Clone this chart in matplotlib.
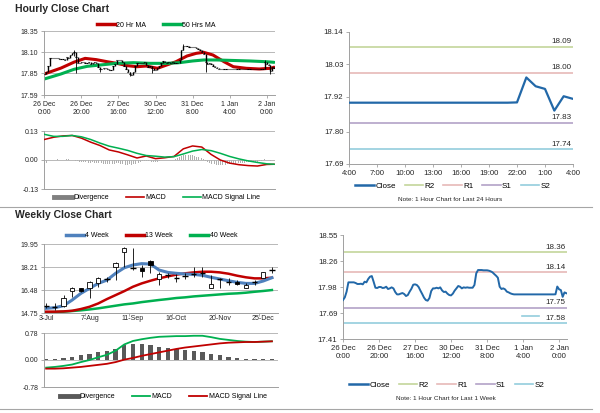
import numpy as np
import matplotlib
matplotlib.use("Agg")
import matplotlib.pyplot as plt
import matplotlib.transforms as mtransforms
from matplotlib.lines import Line2D

plt.rcParams['font.family'] = ['Liberation Sans', 'DejaVu Sans']

# ---------------- hourly data (last week, 125 hours) ----------------
hourly_close = [
    17.837, 17.866, 17.929, 18.031, 18.031, 18.031, 18.031, 18.024, 18.013, 18.013,
    18.016, 18.009, 18.038, 18.031, 18.068, 18.093, 18.100, 18.038, 17.972, 17.969,
    17.980, 17.980, 17.969, 17.972, 17.983, 17.958, 17.965, 17.976, 17.965, 17.925,
    17.899, 17.899, 17.907, 17.914, 17.903, 17.881, 17.892, 17.929, 17.961, 18.005,
    18.009, 18.002, 17.980, 17.940, 17.903, 17.863, 17.837, 17.830, 17.859, 17.936,
    17.965, 17.965, 17.972, 17.965, 17.976, 17.943, 17.925, 17.929, 17.907, 17.892,
    17.888, 17.907, 17.940, 17.965, 17.991, 17.983, 17.965, 17.976, 17.972, 17.976,
    17.972, 17.972, 17.972, 18.002, 18.130, 18.166, 18.166, 18.166, 18.163, 18.163,
    18.163, 18.159, 18.152, 18.141, 18.122, 18.104, 18.082, 17.983, 17.958, 17.965,
    17.954, 17.929, 17.921, 17.910, 17.903, 17.899, 17.899, 17.899, 17.899, 17.899,
    17.899, 17.899, 17.899, 17.899, 17.899, 17.899, 17.899, 17.899, 17.899, 17.899,
    17.899, 17.899, 17.899, 17.899, 17.899, 17.899, 17.899, 17.899, 17.900, 17.985,
    17.955, 17.946, 17.872, 17.921, 17.912,
]
hourly_ticks = [0, 20, 40, 60, 80, 100, 120]
hourly_ticklabels = ['26 Dec\n0:00', '26 Dec\n20:00', '27 Dec\n16:00', '30 Dec\n12:00',
                     '31 Dec\n8:00', '1 Jan\n4:00', '2 Jan\n0:00']

# long wicks visible on the hourly candles
wick_idx = [16, 17, 30, 46, 58, 75, 87, 119, 122]
wick_lo = [18.05, 17.85, 17.86, 17.82, 17.85, 18.13, 17.86, 17.90, 17.84]
wick_hi = [18.13, 18.06, 17.91, 17.86, 17.93, 18.19, 18.07, 18.00, 17.95]

ma20_idx = [0, 9, 16, 22, 28, 34, 39, 45, 50, 55, 61, 66, 71, 77, 82, 86, 91, 97, 102, 109, 116, 122, 124]
ma20 = [17.84, 17.91, 17.98, 18.025, 18.01, 17.985, 17.966, 17.938, 17.926, 17.934, 17.907, 17.946,
        17.985, 18.053, 18.085, 18.097, 18.065, 17.985, 17.926, 17.907, 17.899, 17.907, 17.92]
ma50_idx = [0, 9, 16, 23, 30, 39, 48, 57, 66, 73, 80, 86, 93, 102, 111, 120, 124]
ma50 = [17.78, 17.84, 17.895, 17.93, 17.946, 17.966, 17.974, 17.966, 17.966, 17.974, 17.994,
        18.006, 18.006, 18.0, 17.994, 17.985, 17.978]

macd_h_idx = [0, 5, 10, 15, 20, 25, 30, 35, 40, 45, 50, 55, 60, 65, 70, 75, 80, 85, 90, 95,
              100, 105, 110, 115, 120, 124]
macd_h = [0.092, 0.102, 0.108, 0.110, 0.098, 0.080, 0.065, 0.045, 0.036, 0.023, 0.009, 0.018, 0.006,
          0.010, 0.016, 0.050, 0.063, 0.058, 0.025, 0.000, -0.014, -0.021, -0.025, -0.027, -0.020, -0.019]
signal_h = [0.115, 0.106, 0.106, 0.110, 0.104, 0.092, 0.076, 0.062, 0.053, 0.043, 0.030, 0.020, 0.017,
            0.013, 0.015, 0.027, 0.040, 0.047, 0.042, 0.030, 0.016, 0.005, -0.004, -0.011, -0.017, -0.019]
diverg_h = [
    -0.020, -0.015, -0.010, -0.005, -0.002, 0.000, 0.002, 0.003, 0.002, 0.000,
    0.000, -0.002, 0.003, 0.004, 0.002, 0.001, -0.002, -0.004, -0.006, -0.008,
    -0.008, -0.010, -0.010, -0.012, -0.012, -0.012, -0.011, -0.012, -0.013, -0.014,
    -0.012, -0.014, -0.016, -0.018, -0.018, -0.018, -0.017, -0.018, -0.016, -0.015,
    -0.014, -0.016, -0.018, -0.020, -0.021, -0.021, -0.020, -0.022, -0.020, -0.018,
    -0.016, -0.012, -0.008, -0.006, -0.004, -0.003, -0.006, -0.010, -0.011, -0.011,
    -0.010, -0.008, -0.005, -0.004, -0.003, -0.002, 0.000, 0.001, 0.001, 0.002,
    0.003, 0.006, 0.010, 0.014, 0.020, 0.022, 0.024, 0.024, 0.023, 0.022,
    0.021, 0.018, 0.015, 0.012, 0.010, 0.008, 0.004, -0.004, -0.010, -0.014,
    -0.016, -0.018, -0.020, -0.022, -0.022, -0.022, -0.022, -0.022, -0.021, -0.020,
    -0.020, -0.019, -0.018, -0.017, -0.016, -0.015, -0.014, -0.013, -0.012, -0.011,
    -0.010, -0.010, -0.009, -0.008, -0.007, -0.007, -0.006, -0.005, -0.003, 0.003,
    0.002, 0.000, -0.004, -0.002, -0.001,
]

# 24 hour chart
day_ticklabels = ['4:00', '7:00', '10:00', '13:00', '16:00', '19:00', '22:00', '1:00', '4:00']
day_levels = {'R2': 18.09, 'R1': 18.00, 'S1': 17.83, 'S2': 17.74}
week_levels = {'R2': 18.36, 'R1': 18.14, 'S1': 17.75, 'S2': 17.58}
level_colors = {'R2': '#c3d69b', 'R1': '#e6b9b8', 'S1': '#b3a2c7', 'S2': '#93cddd'}

# ---------------- weekly data (27 weeks) ----------------
weekly_ticks = [0, 5, 10, 15, 20, 25]
weekly_ticklabels = ['3-Jul', '7-Aug', '11-Sep', '16-Oct', '20-Nov', '25-Dec']
w_open = [15.30, 15.22, 15.30, 16.40, 16.61, 16.61, 16.98, 17.28, 18.24, 19.37, 18.11, 18.11, 18.67, 17.31,
          17.61, 17.41, 17.54, 17.66, 17.74, 16.66, 17.28, 17.11, 17.11, 16.66, 17.06, 17.41, 17.99]
w_close = [15.30, 15.22, 15.90, 16.61, 16.43, 17.11, 17.36, 17.28, 18.49, 19.62, 18.11, 17.91, 18.37, 17.66,
           17.61, 17.41, 17.54, 17.66, 17.74, 16.91, 17.28, 17.11, 16.91, 16.86, 17.06, 17.81, 17.99]
w_high = [15.47, 15.47, 16.10, 16.68, 16.66, 17.18, 17.44, 17.44, 18.62, 19.75, 19.67, 18.37, 18.74, 17.81,
          17.74, 17.66, 17.74, 18.24, 18.24, 17.61, 17.41, 17.36, 17.23, 16.98, 17.23, 17.86, 18.24]
w_low = [15.10, 14.97, 15.22, 15.98, 16.35, 15.85, 16.73, 17.11, 17.23, 18.24, 17.99, 17.49, 17.74, 16.86,
         17.36, 17.11, 17.31, 17.49, 17.49, 16.61, 16.61, 16.86, 16.86, 16.61, 16.86, 17.36, 17.74]
ma4 = [15.10, 15.15, 15.30, 15.73, 16.23, 16.61, 16.98, 17.23, 17.74, 18.16, 18.37, 18.47, 18.44, 17.99,
       17.81, 17.74, 17.69, 17.66, 17.59, 17.44, 17.31, 17.18, 17.06, 16.98, 16.98, 17.16, 17.41]
ma13 = [14.85, 14.85, 14.87, 14.92, 15.05, 15.22, 15.47, 15.80, 16.10, 16.40, 16.73, 16.98, 17.18, 17.36,
        17.51, 17.64, 17.74, 17.81, 17.86, 17.86, 17.81, 17.71, 17.56, 17.44, 17.36, 17.36, 17.41]
ma40 = [14.80, 14.82, 14.85, 14.90, 14.95, 15.02, 15.10, 15.20, 15.30, 15.40, 15.47, 15.57, 15.65, 15.73,
        15.80, 15.88, 15.93, 16.00, 16.05, 16.10, 16.15, 16.20, 16.23, 16.28, 16.35, 16.41, 16.48]
macd_w = [-0.22, -0.20, -0.17, -0.13, -0.06, 0.00, 0.08, 0.15, 0.27, 0.45, 0.55, 0.60, 0.64, 0.67,
          0.68, 0.69, 0.69, 0.70, 0.70, 0.66, 0.61, 0.58, 0.55, 0.53, 0.52, 0.53, 0.54]
signal_w = [-0.25, -0.25, -0.24, -0.22, -0.20, -0.17, -0.14, -0.11, -0.06, 0.01, 0.06, 0.12, 0.17, 0.22,
            0.27, 0.32, 0.36, 0.39, 0.42, 0.45, 0.48, 0.50, 0.51, 0.52, 0.52, 0.53, 0.54]
diverg_w = [0.02, 0.03, 0.07, 0.10, 0.14, 0.17, 0.22, 0.26, 0.33, 0.42, 0.46, 0.45, 0.42, 0.38,
            0.36, 0.33, 0.28, 0.25, 0.22, 0.18, 0.14, 0.09, 0.06, 0.03, 0.02, 0.02, 0.02]

RED = '#c00000'
GREEN = '#00b050'
BLUE = '#4f81bd'
CLOSE = '#2268a8'
GRID = '#b8b8b8'
AXC = '#a0a0a0'
TXT = '#262626'


def box(l, t, r, b):
    return [l / 600, 1 - b / 413, (r - l) / 600, (b - t) / 413]


def style(ax, yticks, fs, grid=True):
    ax.set_ylim(yticks[0], yticks[-1])
    ax.set_yticks(yticks)
    ax.set_yticklabels(['%.2f' % v for v in yticks])
    for s in ['top', 'right']:
        ax.spines[s].set_visible(False)
    for s in ['left', 'bottom']:
        ax.spines[s].set_color(AXC)
        ax.spines[s].set_linewidth(0.7)
    if grid:
        ax.yaxis.grid(True, color=GRID, lw=0.7)
        ax.set_axisbelow(True)
    ax.tick_params(labelsize=fs, colors=AXC, labelcolor=TXT, length=2.5, width=0.6, pad=1.5)


def legend(ax, handles, labels, cx, cy, fs, spacing=2.5, hl=2.6):
    ax.legend(handles, labels, loc='center', bbox_to_anchor=(cx, cy), ncol=len(handles),
              frameon=False, fontsize=fs, handlelength=hl, handletextpad=0.15,
              columnspacing=spacing, borderaxespad=0, borderpad=0)


fig = plt.figure(figsize=(6, 4.13), dpi=100)

fig.text(15 / 600, 1 - 9 / 413, 'Hourly Close Chart', fontsize=7.5, fontweight='bold', color=TXT, va='center')
fig.text(15 / 600, 1 - 215 / 413, 'Weekly Close Chart', fontsize=7.5, fontweight='bold', color=TXT, va='center')
for yy in [207, 409]:
    fig.add_artist(Line2D([0, 592 / 600], [1 - yy / 413] * 2, transform=fig.transFigure, color='#a6a6a6', lw=0.8))

# ---------- hourly candles ----------
x_h = np.arange(len(hourly_close))
h_close = np.array(hourly_close)
h_open = np.r_[h_close[0], h_close[:-1]]

ax1 = fig.add_axes(box(44, 31, 275, 95))
style(ax1, [17.59, 17.85, 18.10, 18.35], 5)
ax1.plot(ma20_idx, ma20, color=RED, lw=2.2, zorder=2, solid_capstyle='round')
ax1.plot(ma50_idx, ma50, color=GREEN, lw=2.2, zorder=2, solid_capstyle='round')
ax1.vlines(wick_idx, wick_lo, wick_hi, color='black', lw=0.6, zorder=3)
ax1.vlines(x_h, h_open, h_close, color='black', lw=1.0, zorder=3)
ax1.hlines(h_close, x_h - 0.35, x_h + 0.35, color='black', lw=0.8, zorder=3)
ax1.set_xlim(-0.2, 124.5)
ax1.set_xticks(hourly_ticks)
ax1.set_xticklabels(hourly_ticklabels)
legend(ax1, [Line2D([], [], color=RED, lw=2.5), Line2D([], [], color=GREEN, lw=2.5)],
       ['20 Hr MA', '50 Hrs MA'], 0.485, 1.09, 5)

ax2 = fig.add_axes(box(44, 131, 275, 189))
style(ax2, [-0.13, 0.00, 0.13], 5)
ax2.bar(x_h, diverg_h, width=0.45, color='#b0b0b0', zorder=2)
ax2.plot(macd_h_idx, macd_h, color=RED, lw=1.1, zorder=3)
ax2.plot(macd_h_idx, signal_h, color=GREEN, lw=1.1, zorder=3)
ax2.set_xlim(-0.2, 124.5)
ax2.set_xticks([])
legend(ax2, [Line2D([], [], color='#808080', lw=3.5), Line2D([], [], color=RED, lw=1.2),
             Line2D([], [], color=GREEN, lw=1.2)],
       ['Divergence', 'MACD', 'MACD Signal Line'], 0.49, -0.155, 5)


def level_labels(ax, levels, fs):
    tr = mtransforms.blended_transform_factory(ax.transAxes, ax.transData)
    for k, v in levels.items():
        ax.axhline(v, color=level_colors[k], lw=1.2, zorder=1)
        ax.annotate('%.2f' % v, xy=(0.995, v), xycoords=tr, xytext=(0, 1.3), textcoords='offset points',
                    ha='right', va='bottom', fontsize=fs, color=TXT)


# ---------- 24 hour chart ----------
day_close = hourly_close[100:]
ax3 = fig.add_axes(box(349, 32, 573, 164))
style(ax3, [17.69, 17.80, 17.92, 18.03, 18.14], 5.6, grid=False)
level_labels(ax3, day_levels, 5.8)
ax3.plot(np.arange(len(day_close)), day_close, color=CLOSE, lw=1.6, zorder=3)
ax3.set_xlim(0, 24)
ax3.set_xticks(np.arange(0, 25, 3))
ax3.set_xticklabels(day_ticklabels)
lev_handles = [Line2D([], [], color=CLOSE, lw=1.8)] + [Line2D([], [], color=level_colors[k], lw=1.2)
                                                        for k in day_levels]
legend(ax3, lev_handles, ['Close'] + list(day_levels), 0.464, -0.167, 5.8, spacing=1.1, hl=2.3)
fig.text(450 / 600, 1 - 200 / 413, 'Note: 1 Hour Chart for Last 24 Hours', fontsize=4.6, color=TXT,
         ha='center', va='center')

# ---------- weekly candles ----------
x_w = np.arange(len(w_close))
ax4 = fig.add_axes(box(44, 244, 278, 313))
style(ax4, [14.75, 16.48, 18.21, 19.95], 5)
ax4.plot(x_w, ma40, color=GREEN, lw=1.8, zorder=2)
ax4.plot(x_w, ma13, color=RED, lw=1.8, zorder=2)
ax4.plot(x_w, ma4, color=BLUE, lw=2.2, zorder=2)
ax4.vlines(x_w, w_low, w_high, color='black', lw=0.6, zorder=3)
for i in x_w:
    o, c = w_open[i], w_close[i]
    if o == c:
        ax4.hlines(c, i - 0.3, i + 0.3, color='black', lw=1.0, zorder=4)
    else:
        fc = 'white' if c > o else 'black'
        ax4.bar(i, abs(c - o), bottom=min(o, c), width=0.5, color=fc, edgecolor='black', lw=0.6, zorder=4)
ax4.set_xlim(-0.25, 26.7)
ax4.set_xticks(weekly_ticks)
ax4.set_xticklabels(weekly_ticklabels)
ax4.tick_params(axis='x', length=0)
ax4.set_xticks([4.5, 9.5, 14.5, 19.5, 24.5], minor=True)
ax4.tick_params(axis='x', which='minor', length=2.5, color=AXC, width=0.6)
legend(ax4, [Line2D([], [], color=BLUE, lw=2.5), Line2D([], [], color=RED, lw=2.5),
             Line2D([], [], color=GREEN, lw=2.5)],
       ['4 Week', '13 Week', '40 Week'], 0.46, 1.116, 5)

ax5 = fig.add_axes(box(44, 333, 278, 387))
style(ax5, [-0.78, 0.00, 0.78], 5)
ax5.bar(x_w, diverg_w, width=0.5, color='#595959', zorder=2)
ax5.plot(x_w, macd_w, color=GREEN, lw=1.3, zorder=3)
ax5.plot(x_w, signal_w, color=RED, lw=1.3, zorder=3)
ax5.set_xlim(-0.25, 26.7)
ax5.set_xticks([])
legend(ax5, [Line2D([], [], color='#595959', lw=3.5), Line2D([], [], color=GREEN, lw=1.3),
             Line2D([], [], color=RED, lw=1.3)],
       ['Divergence', 'MACD', 'MACD Signal Line'], 0.51, -0.185, 5)

# ---------- 1 week hourly line ----------
ax6 = fig.add_axes(box(343, 235, 567, 339))
style(ax6, [17.41, 17.69, 17.98, 18.26, 18.55], 5.6, grid=False)
level_labels(ax6, {k: v for k, v in week_levels.items() if k != 'S2'}, 5.8)
ax6.axhline(week_levels['S2'], color=level_colors['S2'], lw=1.2, zorder=1)
tr6 = mtransforms.blended_transform_factory(ax6.transAxes, ax6.transData)
off = mtransforms.ScaledTranslation(0, 5.5 / 72, fig.dpi_scale_trans)
ax6.add_line(Line2D([0.80, 0.875], [week_levels['S2']] * 2, transform=tr6 + off,
                    color=level_colors['S2'], lw=1.2))
ax6.annotate('%.2f' % week_levels['S2'], xy=(0.995, week_levels['S2']), xycoords=tr6, xytext=(0, 1.3),
             textcoords='offset points', ha='right', va='bottom', fontsize=5.8, color=TXT)
ax6.plot(x_h, hourly_close, color=CLOSE, lw=1.4, zorder=3)
ax6.set_xlim(0, 124.4)
ax6.set_xticks(hourly_ticks)
ax6.set_xticklabels(hourly_ticklabels)
legend(ax6, lev_handles, ['Close'] + list(week_levels), 0.464, -0.44, 5.8, spacing=1.1, hl=2.3)
fig.text(446 / 600, 1 - 398 / 413, 'Note: 1 Hour Chart for Last 1 Week', fontsize=4.6, color=TXT,
         ha='center', va='center')

fig.savefig('out.png', dpi=100)
